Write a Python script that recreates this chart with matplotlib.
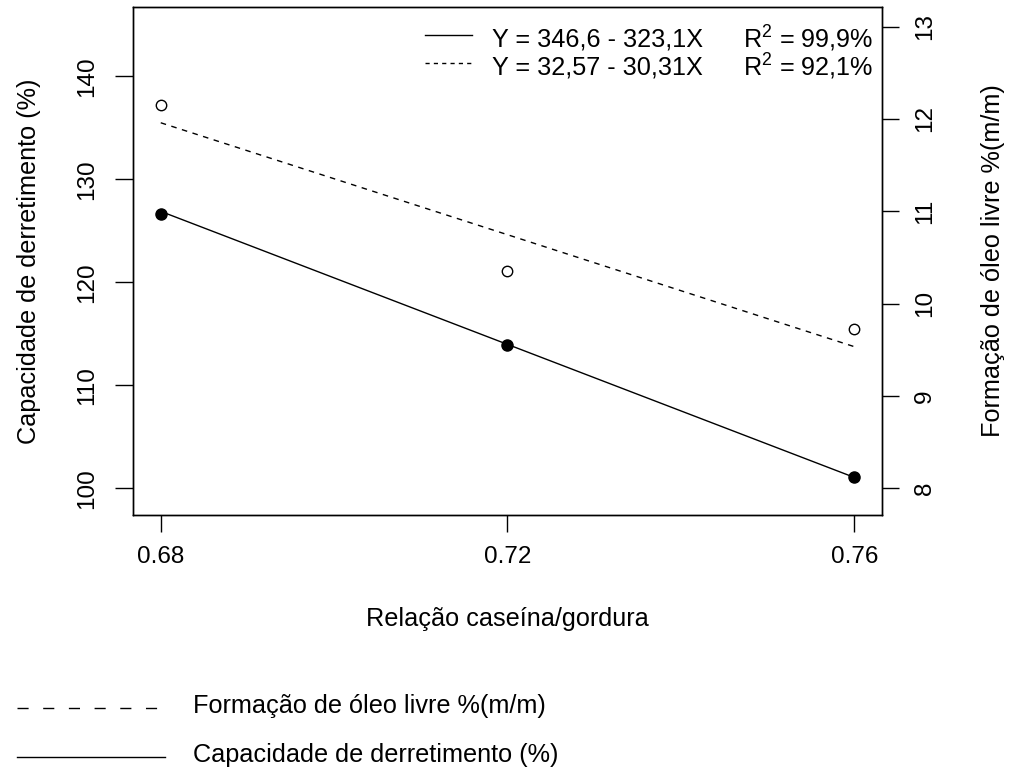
import matplotlib
matplotlib.use("Agg")
import matplotlib.pyplot as plt
from matplotlib.lines import Line2D
import numpy as np

plt.rcParams['font.family'] = ['Liberation Sans', 'DejaVu Sans']
plt.rcParams['mathtext.default'] = 'regular'

# Data
x_ratio = [0.68, 0.72, 0.76]
capacidade = [126.6, 113.9, 101.04]      # Capacidade de derretimento (%)
oleo = [12.15, 10.35, 9.73]              # Formação de óleo livre %(m/m)
fit_cap = (346.6, -323.1)
fit_oleo = (32.57, -30.31)
x_ticks = [0.68, 0.72, 0.76]
left_ticks = [100, 110, 120, 130, 140]
right_ticks = [8, 9, 10, 11, 12, 13]
eq_labels = ["Y = 346,6 - 323,1X", "Y = 32,57 - 30,31X"]
r2_labels = [r"$\mathregular{R^2}$ = 99,9%", r"$\mathregular{R^2}$ = 92,1%"]
legend_labels = ["Formação de óleo livre %(m/m)", "Capacidade de derretimento (%)"]

W, H = 1011, 767
fig = plt.figure(figsize=(W / 100, H / 100), dpi=100)
L, R, T, B = 133, 882, 7, 515
ax = fig.add_axes([L / W, (H - B) / H, (R - L) / W, (B - T) / H])
ax2 = ax.twinx()

FS = 17.5     # tick labels
FT = 18.2     # other texts
lw = 1.0

xs = np.array(x_ratio)
ax.plot(xs, fit_cap[0] + fit_cap[1] * xs, color='black', lw=lw)
ax.plot(x_ratio, capacidade, 'o', color='black', ms=8)
ax2.plot(xs, fit_oleo[0] + fit_oleo[1] * xs, color='black', lw=lw, ls=(0, (4, 4)))
ax2.plot(x_ratio, oleo, 'o', mfc='white', mec='black', ms=7.5, mew=1.0)

ax.set_xlim(0.6768, 0.7632)
ax.set_ylim(97.39, 146.75)
ax2.set_ylim(7.711, 13.213)

ax.set_xticks(x_ticks)
ax.set_xticklabels([f"{v:.2f}" for v in x_ticks])
ax.set_yticks(left_ticks)
ax.set_yticklabels([str(v) for v in left_ticks], rotation=90, va='center')
ax2.set_yticks(right_ticks)
ax2.set_yticklabels([str(v) for v in right_ticks], rotation=90, va='center')

ax.tick_params(axis='x', length=12, width=1, labelsize=FS, pad=10)
ax.tick_params(axis='y', length=13, width=1, labelsize=FS, pad=12)
ax2.tick_params(axis='y', length=12, width=1, labelsize=FS, pad=11)
for a in (ax, ax2):
    for s in a.spines.values():
        s.set_linewidth(1.0)

# Axis labels
fig.text(29 / W, 1 - 261 / H, "Capacidade de derretimento (%)", rotation=90,
         ha='center', va='center', fontsize=FT)
fig.text(993 / W, 1 - 261 / H, "Formação de óleo livre %(m/m)", rotation=90,
         ha='center', va='center', fontsize=FT)
fig.text(((L + R) / 2) / W, 1 - 619 / H, "Relação caseína/gordura",
         ha='center', va='center', fontsize=FT)

# Top legend (equations)
styles = ['-', (0, (3, 3))]
line_y = [35, 63]
text_y = [39, 67]
for i in range(2):
    fig.add_artist(Line2D([425 / W, 472 / W], [1 - line_y[i] / H] * 2,
                          color='black', lw=lw, ls=styles[i], transform=fig.transFigure))
    fig.text(492 / W, 1 - text_y[i] / H, eq_labels[i], ha='left', va='center', fontsize=FT)
    fig.text(743 / W, 1 - text_y[i] / H, r2_labels[i], ha='left', va='center', fontsize=FT)

# Bottom legend
b_styles = [(0, (8, 10.5)), '-']
b_y = [708, 757]
for i in range(2):
    fig.add_artist(Line2D([17 / W, 165 / W], [1 - b_y[i] / H] * 2,
                          color='black', lw=lw, ls=b_styles[i], transform=fig.transFigure))
    fig.text(193 / W, 1 - (b_y[i] - 2) / H, legend_labels[i], ha='left', va='center', fontsize=FT)

fig.savefig("out.png", dpi=100)
